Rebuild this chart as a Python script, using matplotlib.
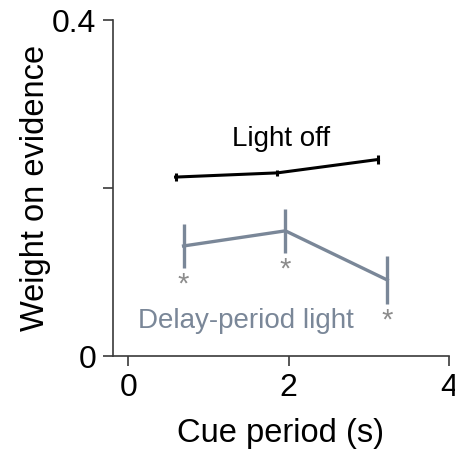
import matplotlib
matplotlib.use("Agg")
import matplotlib.pyplot as plt

plt.rcParams['font.family'] = ['Liberation Sans', 'DejaVu Sans']

# cue period (s) and weights
light_off_x = [0.59, 1.86, 3.12]
light_off_y = [0.213, 0.218, 0.234]
light_off_err = [0.005, 0.004, 0.005]

delay_x = [0.69, 1.96, 3.23]
delay_y = [0.131, 0.149, 0.0905]
delay_err = [0.026, 0.026, 0.029]

x_ticks = [0, 2, 4]
y_ticks = [0, 0.2, 0.4]
y_tick_labels = ['0', '', '0.4']

BLACK = '#000000'
SLATE = '#7a8798'
STAR = '#8c8c8c'
AXIS = '#3a3a3a'

fig = plt.figure(figsize=(4.56, 4.53), dpi=100)
ax = fig.add_axes([113 / 456, 97 / 453, 336 / 456, 336 / 453])

ax.errorbar(light_off_x, light_off_y, yerr=light_off_err, color=BLACK,
            lw=2.2, elinewidth=2.2, capsize=0)
ax.errorbar(delay_x, delay_y, yerr=delay_err, color=SLATE,
            lw=2.4, elinewidth=2.4, capsize=0)

# significance stars under each delay-light point
for x, y, e in zip(delay_x, delay_y, delay_err):
    ax.annotate('*', (x, y - e), xytext=(0, -12), textcoords='offset points',
                ha='center', va='center', fontsize=21, color=STAR)

ax.text(1.9, 0.25, 'Light off', ha='center', va='baseline',
        fontsize=20, color=BLACK)
ax.text(1.47, 0.033, 'Delay-period light', ha='center', va='baseline',
        fontsize=20, color=SLATE)

ax.set_xlim(-0.19, 4.0)
ax.set_ylim(0, 0.4)
ax.set_xticks(x_ticks)
ax.set_xticklabels([str(t) for t in x_ticks])
ax.set_yticks(y_ticks)
ax.set_yticklabels(y_tick_labels)

for side in ['top', 'right']:
    ax.spines[side].set_visible(False)
for side in ['left', 'bottom']:
    ax.spines[side].set_color(AXIS)
    ax.spines[side].set_linewidth(1.2)

ax.tick_params(direction='out', length=7, width=1.2, color=AXIS,
               labelsize=23, pad=5)
ax.set_xlabel('Cue period (s)', fontsize=23.5, labelpad=11)
ax.set_ylabel('Weight on evidence', fontsize=23.5, labelpad=1)

fig.savefig('out.png', dpi=100)
